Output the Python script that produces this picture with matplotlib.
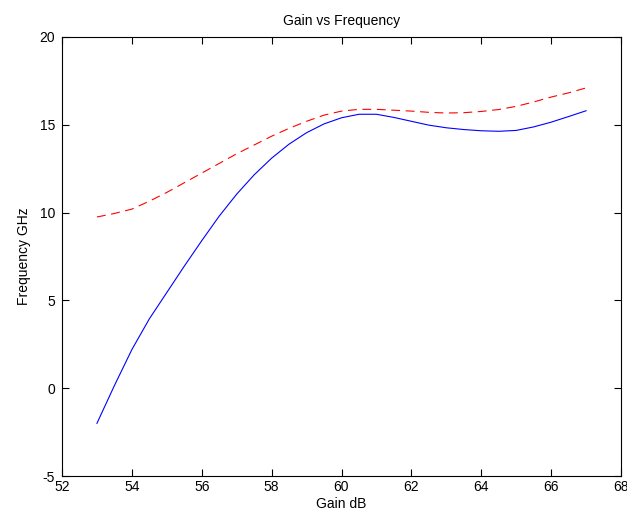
import matplotlib.pyplot as plt
import numpy as np

plt.rcParams["font.family"] = ["Liberation Sans", "DejaVu Sans"]
plt.rcParams["font.size"] = 10
plt.rcParams["axes.unicode_minus"] = False

# gain (dB) sample points
gain = np.arange(53, 67.01, 0.5)

# solid blue curve
freq_blue = [
    -2.0, 0.15, 2.2, 3.95, 5.45, 6.95, 8.4, 9.8, 11.05, 12.15,
    13.1, 13.9, 14.55, 15.05, 15.4, 15.6, 15.6, 15.42, 15.2, 14.98,
    14.83, 14.73, 14.66, 14.63, 14.68, 14.88, 15.15, 15.47, 15.8,
]

# dashed red curve
freq_red = [
    9.75, 9.95, 10.2, 10.65, 11.15, 11.7, 12.25, 12.8, 13.35, 13.85,
    14.35, 14.8, 15.2, 15.55, 15.78, 15.88, 15.88, 15.83, 15.78, 15.71,
    15.67, 15.69, 15.76, 15.87, 16.05, 16.3, 16.58, 16.82, 17.1,
]

x_ticks = np.arange(52, 69, 2)
y_ticks = np.arange(-5, 21, 5)

fig = plt.figure(figsize=(6.27, 5.19), dpi=100)
ax = fig.add_axes([62 / 627, 43 / 519, 559 / 627, 439 / 519])

ax.plot(gain, freq_blue, color="#0000ff", linewidth=0.8)
ax.plot(gain, freq_red, color="#ff0000", linewidth=0.8, linestyle=(0, (8, 5)))

ax.set_xlim(52, 68)
ax.set_ylim(-5, 20)
ax.set_xticks(x_ticks)
ax.set_yticks(y_ticks)
ax.tick_params(direction="in", top=True, right=True, length=5, width=0.8,
               labelsize=10)
ax.tick_params(axis="x", pad=3)
ax.tick_params(axis="y", pad=5)
for s in ax.spines.values():
    s.set_linewidth(0.8)

ax.set_title("Gain vs Frequency", fontsize=10, pad=9)
ax.set_xlabel("Gain dB", labelpad=2)
ax.set_ylabel("Frequency GHz", labelpad=6)

fig.savefig("out.png", dpi=100)
